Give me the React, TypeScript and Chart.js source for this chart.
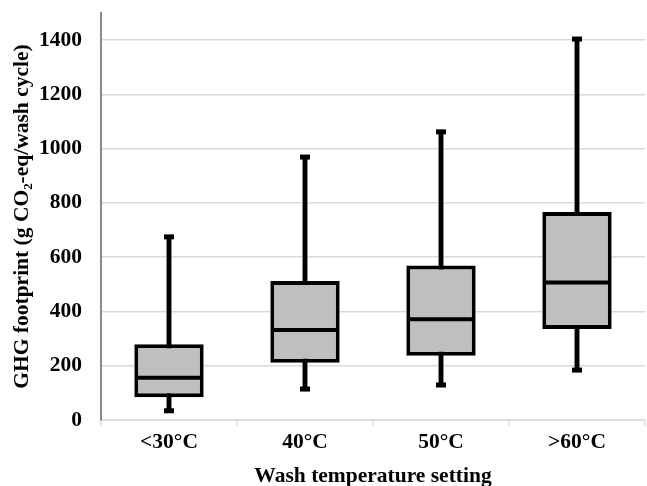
import React, { useEffect, useRef } from "react";
import { Chart, registerables } from "chart.js";

Chart.register(...registerables);

const categories = ["<30°C", "40°C", "50°C", ">60°C"];
const whiskerMin = [34, 114, 129, 184];
const q1 = [84, 211, 237, 335];
const median = [156, 332, 371, 507];
const q3 = [279, 512, 569, 767];
const whiskerMax = [675, 969, 1062, 1404];
const yTicks = [0, 200, 400, 600, 800, 1000, 1200, 1400];

const FONT = "'Liberation Serif', 'Times New Roman', serif";

export default function App() {
  const ref = useRef<HTMLCanvasElement | null>(null);

  useEffect(() => {
    if (!ref.current) return;
    const chart = new Chart(ref.current, {
      type: "bar",
      data: {
        labels: categories,
        datasets: [
          {
            type: "bar",
            label: "whisker",
            data: categories.map((_, i) => [whiskerMin[i], whiskerMax[i]]) as any,
            backgroundColor: "#000000",
            borderWidth: 0,
            barPercentage: 0.036,
            categoryPercentage: 1,
            grouped: false,
            order: 4,
          } as any,
          {
            type: "bar",
            label: "box",
            data: categories.map((_, i) => [q1[i], q3[i]]) as any,
            backgroundColor: "#bfbfbf",
            borderColor: "#000000",
            borderWidth: 4,
            borderSkipped: false,
            barPercentage: 0.51,
            categoryPercentage: 1,
            grouped: false,
            order: 3,
          } as any,
          {
            type: "line",
            label: "median",
            data: median,
            showLine: false,
            pointStyle: "line",
            pointRadius: 33,
            pointBorderWidth: 4,
            borderColor: "#000000",
            backgroundColor: "#000000",
            order: 1,
          } as any,
          {
            type: "line",
            label: "min",
            data: whiskerMin,
            showLine: false,
            pointStyle: "line",
            pointRadius: 5,
            pointBorderWidth: 5,
            borderColor: "#000000",
            backgroundColor: "#000000",
            order: 1,
          } as any,
          {
            type: "line",
            label: "max",
            data: whiskerMax,
            showLine: false,
            pointStyle: "line",
            pointRadius: 5,
            pointBorderWidth: 5,
            borderColor: "#000000",
            backgroundColor: "#000000",
            order: 1,
          } as any,
        ],
      },
      options: {
        responsive: false,
        animation: false,
        events: [],
        layout: { autoPadding: false, padding: { left: 10, right: 2, top: 13, bottom: 0 } },
        plugins: {
          legend: { display: false },
          tooltip: { enabled: false },
        },
        scales: {
          x: {
            offset: true,
            grid: {
              offset: true,
              drawOnChartArea: false,
              drawTicks: true,
              tickLength: 6,
              color: "#d9d9d9",
              lineWidth: 1.5,
            },
            border: { display: true, color: "#d9d9d9", width: 1.5 },
            ticks: {
              color: "#000000",
              font: { family: FONT, size: 21.5, weight: "bold" },
              padding: 4,
              maxRotation: 0,
            },
            title: {
              display: true,
              text: "Wash temperature setting",
              color: "#000000",
              font: { family: FONT, size: 21.5, weight: "bold", lineHeight: 0.85 },
              padding: { top: 8, bottom: 0 },
            },
            afterFit: (scale: any) => {
              scale.height = 66;
              scale.paddingLeft = 0;
              scale.paddingRight = 0;
            },
          },
          y: {
            min: 0,
            max: 1500,
            ticks: {
              stepSize: 200,
              color: "#000000",
              font: { family: FONT, size: 21.5, weight: "bold" },
              padding: 19,
              callback: (v: any) => String(v),
            },
            afterBuildTicks: (scale: any) => {
              scale.ticks = yTicks.map((v) => ({ value: v }));
            },
            grid: {
              color: "#d9d9d9",
              lineWidth: 1.5,
              drawTicks: false,
            },
            border: { display: true, color: "#8a8a8a", width: 2 },
            title: {
              display: true,
              text: "GHG footprint (g CO₂-eq/wash cycle)",
              color: "#000000",
              font: { family: FONT, size: 21.5, weight: "bold" },
              padding: { top: 0, bottom: 4 },
            },
            afterFit: (scale: any) => {
              scale.width = 91;
              scale.paddingTop = 0;
              scale.paddingBottom = 0;
            },
          },
        },
      },
    });
    return () => chart.destroy();
  }, []);

  return (
    <div style={{ position: "fixed", left: 0, top: 0, width: 647, height: 486, background: "#fff" }}>
      <canvas ref={ref} width={647} height={486} style={{ display: "block", width: 647, height: 486 }} />
    </div>
  );
}
